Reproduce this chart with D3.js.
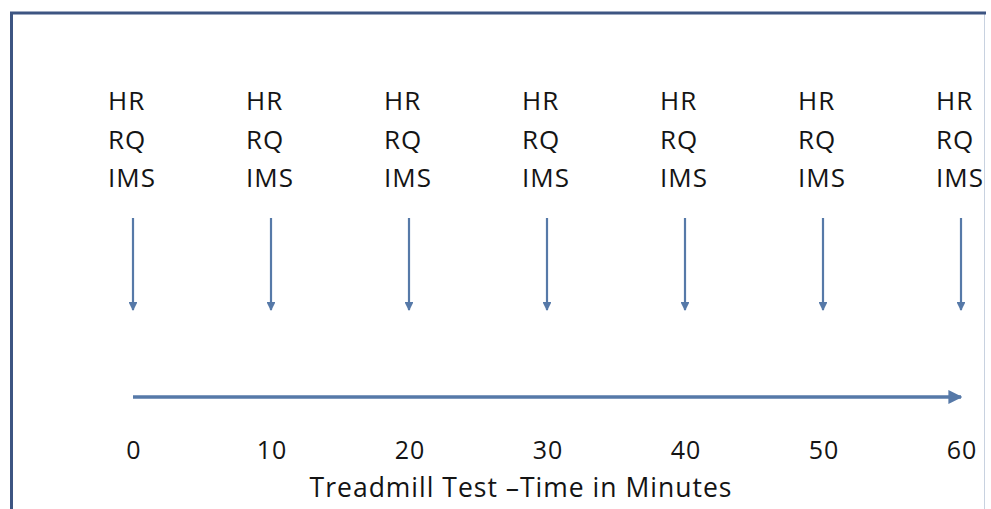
<!DOCTYPE html>
<html>
<head>
<meta charset="utf-8">
<script src="https://cdn.jsdelivr.net/npm/d3@7"></script>
<style>
  body { margin: 0; background: #fff; }
  svg text { font-family: "Open Sans", Lato, sans-serif; fill: #141414; letter-spacing: 1px; }
</style>
</head>
<body>
<div id="chart"></div>
<script>
// time points of the treadmill test (minutes)
const minutes = [0, 10, 20, 30, 40, 50, 60];
const measures = ["HR", "RQ", "IMS"];
const axisTitle = "Treadmill Test \u2013Time in Minutes";

const width = 991, height = 509;
const arrowColor = "#5679a8";

const svg = d3.select("#chart").append("svg")
    .attr("width", width)
    .attr("height", height);

// frame
svg.append("rect")
    .attr("x", 11.5).attr("y", 13.5)
    .attr("width", 973).attr("height", 520)
    .attr("fill", "#fff")
    .attr("stroke", "#c8d2e0").attr("stroke-width", 1);
svg.append("line").attr("x1", 10).attr("x2", 986).attr("y1", 13).attr("y2", 13)
    .attr("stroke", "#3d5582").attr("stroke-width", 3);
svg.append("line").attr("x1", 11.5).attr("x2", 11.5).attr("y1", 12).attr("y2", height)
    .attr("stroke", "#3d5582").attr("stroke-width", 3);

const x = d3.scaleLinear().domain([0, 60]).range([133, 961]);

const defs = svg.append("defs");
defs.append("marker")
    .attr("id", "head")
    .attr("viewBox", "0 0 10 10")
    .attr("refX", 9).attr("refY", 5)
    .attr("markerWidth", 4).attr("markerHeight", 4)
    .attr("orient", "auto")
    .append("path").attr("d", "M0,0L10,5L0,10Z").attr("fill", arrowColor);

// measurement labels
const cols = svg.append("g").selectAll("g")
    .data(minutes)
    .enter().append("g")
    .attr("transform", d => `translate(${x(d)},0)`);

cols.selectAll("text")
    .data(measures)
    .enter().append("text")
    .attr("x", -25)
    .attr("y", (d, i) => 110 + i * 38.5)
    .style("font-size", "26px")
    .text(d => d);

// downward arrows
cols.append("line")
    .attr("x1", 0).attr("x2", 0)
    .attr("y1", 218).attr("y2", 310)
    .attr("stroke", arrowColor)
    .attr("stroke-width", 2.2)
    .attr("marker-end", "url(#head)");

// time axis arrow
svg.append("line")
    .attr("x1", x(0)).attr("x2", x(60))
    .attr("y1", 397).attr("y2", 397)
    .attr("stroke", arrowColor)
    .attr("stroke-width", 3.5)
    .attr("marker-end", "url(#head)");

// tick labels
svg.append("g").selectAll("text")
    .data(minutes)
    .enter().append("text")
    .attr("x", d => x(d) + 1)
    .attr("y", 459)
    .attr("text-anchor", "middle")
    .style("font-size", "25px")
    .text(d => d);

svg.append("text")
    .attr("x", 521)
    .attr("y", 497)
    .attr("text-anchor", "middle")
    .style("font-size", "26.5px")
    .text(axisTitle);
</script>
</body>
</html>
